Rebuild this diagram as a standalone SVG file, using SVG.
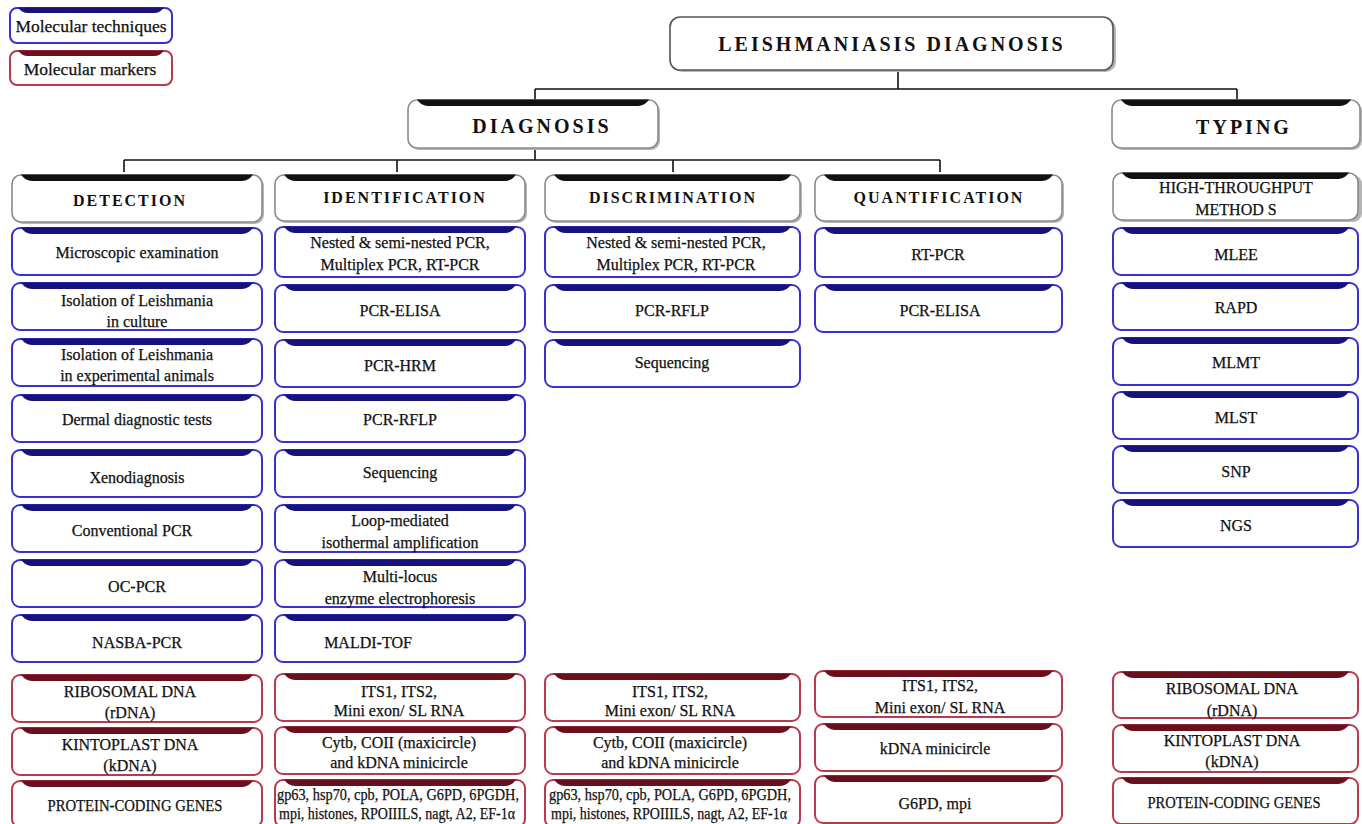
<svg xmlns="http://www.w3.org/2000/svg" width="1362" height="824" viewBox="0 0 1362 824">
<style>
text{font-family:"Liberation Serif","Times New Roman",serif;fill:#111;text-anchor:middle}
.t{font-size:16px;stroke:#111;stroke-width:0.25}
.hd{font-size:16px;font-weight:bold;letter-spacing:2px}
.big{font-size:20px;font-weight:bold;letter-spacing:3px}
.lg{font-size:17.5px;stroke:#111;stroke-width:0.25}
.bx{fill:#fff;stroke:#3a30d2;stroke-width:2}
.rx{fill:#fff;stroke:#b83a4e;stroke-width:2}
.hx{fill:#fff;stroke:#8a8a8a;stroke-width:1.6}
.bb{fill:#15137a}
.rb{fill:#6a101c}
.hb{fill:#111}
.sh{fill:#b5b5b5}
.cn{stroke:#111;stroke-width:1.6;fill:none}
</style>

<g id="connectors">
<path class="cn" d="M898,70 V89 M535,89 H1237 M535,89 V101 M1237,89 V99"/>
<path class="cn" d="M535,148 V160 M124,160 H940 M124,160 V172 M397,160 V172 M673,160 V172 M940,160 V172"/>
</g>

<g id="legend-techniques">
<rect class="bx" x="10" y="8" width="162" height="35" rx="7"/>
<path class="bb" d="M18,7.5 H164 Q160,13 154,13 H28 Q22,13 18,7.5 Z"/>
<text class="lg" x="91" y="32">Molecular techniques</text>
</g>
<g id="legend-markers">
<rect class="rx" x="10" y="51" width="162" height="34" rx="7"/>
<path class="rb" d="M18,50.5 H164 Q160,56 154,56 H28 Q22,56 18,50.5 Z"/>
<text class="lg" x="90" y="75">Molecular markers</text>
</g>

<g id="title">
<rect class="sh" x="672" y="19" width="444" height="53" rx="10"/>
<rect x="670" y="17" width="443" height="53" rx="10" fill="#fff" stroke="#555" stroke-width="1.6"/>
<text class="big" x="892" y="51">LEISHMANIASIS DIAGNOSIS</text>
</g>

<g id="diagnosis">
<rect class="sh" x="410" y="102" width="250" height="48" rx="9"/>
<rect class="hx" x="408" y="100" width="250" height="48" rx="9"/>
<path class="hb" d="M417,99.5 H649 Q645,106 638,106 H428 Q421,106 417,99.5 Z"/>
<text class="big" x="542" y="133">DIAGNOSIS</text>
</g>

<g id="typing">
<rect class="sh" x="1114" y="102" width="248" height="48" rx="9"/>
<rect class="hx" x="1112" y="100" width="248" height="48" rx="9"/>
<path class="hb" d="M1121,99.5 H1351 Q1347,106 1340,106 H1132 Q1125,106 1121,99.5 Z"/>
<text class="big" x="1244" y="134">TYPING</text>
</g>

<g id="detection">
<rect class="sh" x="14" y="177" width="250" height="47" rx="9"/>
<rect class="hx" x="12" y="175" width="250" height="47" rx="9"/>
<path class="hb" d="M21,174.5 H253 Q249,181 242,181 H32 Q25,181 21,174.5 Z"/>
<text class="hd" x="130" y="206">DETECTION</text>
</g>
<g id="identification">
<rect class="sh" x="277" y="177" width="250" height="46" rx="9"/>
<rect class="hx" x="275" y="175" width="250" height="46" rx="9"/>
<path class="hb" d="M284,174.5 H516 Q512,181 505,181 H295 Q288,181 284,174.5 Z"/>
<text class="hd" x="405" y="203">IDENTIFICATION</text>
</g>
<g id="discrimination">
<rect class="sh" x="547" y="177" width="255" height="46" rx="9"/>
<rect class="hx" x="545" y="175" width="255" height="46" rx="9"/>
<path class="hb" d="M554,174.5 H791 Q787,181 780,181 H565 Q558,181 554,174.5 Z"/>
<text class="hd" x="673" y="203">DISCRIMINATION</text>
</g>
<g id="quantification">
<rect class="sh" x="817" y="177" width="247" height="46" rx="9"/>
<rect class="hx" x="815" y="175" width="247" height="46" rx="9"/>
<path class="hb" d="M824,174.5 H1053 Q1049,181 1042,181 H835 Q828,181 824,174.5 Z"/>
<text class="hd" x="939" y="203">QUANTIFICATION</text>
</g>
<g id="high-throughput">
<rect class="sh" x="1115" y="175" width="247" height="47" rx="9"/>
<rect class="hx" x="1113" y="173" width="245" height="47" rx="9"/>
<path class="hb" d="M1122,172.5 H1349 Q1345,179 1338,179 H1133 Q1126,179 1122,172.5 Z"/>
<text class="t" x="1236" y="193">HIGH-THROUGHPUT</text>
<text class="t" x="1236" y="215">METHOD S</text>
</g>

<g id="d1"><rect class="bx" x="12" y="228" width="250" height="47" rx="8"/><path class="bb" d="M21,227.5 H253 Q249,234 242,234 H32 Q25,234 21,227.5 Z"/><text class="t" x="137" y="258">Microscopic examination</text></g>
<g id="d2"><rect class="bx" x="12" y="283" width="250" height="47" rx="8"/><path class="bb" d="M21,282.5 H253 Q249,289 242,289 H32 Q25,289 21,282.5 Z"/><text class="t" x="137" y="306">Isolation of Leishmania</text><text class="t" x="137" y="327">in culture</text></g>
<g id="d3"><rect class="bx" x="12" y="339" width="250" height="47" rx="8"/><path class="bb" d="M21,338.5 H253 Q249,345 242,345 H32 Q25,345 21,338.5 Z"/><text class="t" x="137" y="360">Isolation of Leishmania</text><text class="t" x="137" y="381">in experimental animals</text></g>
<g id="d4"><rect class="bx" x="12" y="395" width="250" height="47" rx="8"/><path class="bb" d="M21,394.5 H253 Q249,401 242,401 H32 Q25,401 21,394.5 Z"/><text class="t" x="137" y="425">Dermal diagnostic tests</text></g>
<g id="d5"><rect class="bx" x="12" y="450" width="250" height="47" rx="8"/><path class="bb" d="M21,449.5 H253 Q249,456 242,456 H32 Q25,456 21,449.5 Z"/><text class="t" x="137" y="483">Xenodiagnosis</text></g>
<g id="d6"><rect class="bx" x="12" y="505" width="250" height="47" rx="8"/><path class="bb" d="M21,504.5 H253 Q249,511 242,511 H32 Q25,511 21,504.5 Z"/><text class="t" x="132" y="536">Conventional PCR</text></g>
<g id="d7"><rect class="bx" x="12" y="560" width="250" height="47" rx="8"/><path class="bb" d="M21,559.5 H253 Q249,566 242,566 H32 Q25,566 21,559.5 Z"/><text class="t" x="137" y="592">OC-PCR</text></g>
<g id="d8"><rect class="bx" x="12" y="615" width="250" height="47" rx="8"/><path class="bb" d="M21,614.5 H253 Q249,621 242,621 H32 Q25,621 21,614.5 Z"/><text class="t" x="137" y="648">NASBA-PCR</text></g>

<g id="i1"><rect class="bx" x="275" y="227" width="250" height="50" rx="8"/><path class="bb" d="M284,226.5 H516 Q512,233 505,233 H295 Q288,233 284,226.5 Z"/><text class="t" x="400" y="248">Nested &amp; semi-nested PCR,</text><text class="t" x="400" y="270">Multiplex PCR, RT-PCR</text></g>
<g id="i2"><rect class="bx" x="275" y="285" width="250" height="47" rx="8"/><path class="bb" d="M284,284.5 H516 Q512,291 505,291 H295 Q288,291 284,284.5 Z"/><text class="t" x="400" y="316">PCR-ELISA</text></g>
<g id="i3"><rect class="bx" x="275" y="340" width="250" height="47" rx="8"/><path class="bb" d="M284,339.5 H516 Q512,346 505,346 H295 Q288,346 284,339.5 Z"/><text class="t" x="400" y="371">PCR-HRM</text></g>
<g id="i4"><rect class="bx" x="275" y="395" width="250" height="47" rx="8"/><path class="bb" d="M284,394.5 H516 Q512,401 505,401 H295 Q288,401 284,394.5 Z"/><text class="t" x="400" y="425">PCR-RFLP</text></g>
<g id="i5"><rect class="bx" x="275" y="450" width="250" height="47" rx="8"/><path class="bb" d="M284,449.5 H516 Q512,456 505,456 H295 Q288,456 284,449.5 Z"/><text class="t" x="400" y="478">Sequencing</text></g>
<g id="i6"><rect class="bx" x="275" y="505" width="250" height="47" rx="8"/><path class="bb" d="M284,504.5 H516 Q512,511 505,511 H295 Q288,511 284,504.5 Z"/><text class="t" x="400" y="526">Loop-mediated</text><text class="t" x="400" y="548">isothermal amplification</text></g>
<g id="i7"><rect class="bx" x="275" y="560" width="250" height="47" rx="8"/><path class="bb" d="M284,559.5 H516 Q512,566 505,566 H295 Q288,566 284,559.5 Z"/><text class="t" x="400" y="582">Multi-locus</text><text class="t" x="400" y="604">enzyme electrophoresis</text></g>
<g id="i8"><rect class="bx" x="275" y="615" width="250" height="47" rx="8"/><path class="bb" d="M284,614.5 H516 Q512,621 505,621 H295 Q288,621 284,614.5 Z"/><text class="t" x="368" y="648">MALDI-TOF</text></g>

<g id="s1"><rect class="bx" x="545" y="227" width="255" height="50" rx="8"/><path class="bb" d="M554,226.5 H791 Q787,233 780,233 H565 Q558,233 554,226.5 Z"/><text class="t" x="676" y="248">Nested &amp; semi-nested PCR,</text><text class="t" x="676" y="270">Multiplex PCR, RT-PCR</text></g>
<g id="s2"><rect class="bx" x="545" y="285" width="255" height="47" rx="8"/><path class="bb" d="M554,284.5 H791 Q787,291 780,291 H565 Q558,291 554,284.5 Z"/><text class="t" x="672" y="316">PCR-RFLP</text></g>
<g id="s3"><rect class="bx" x="545" y="340" width="255" height="47" rx="8"/><path class="bb" d="M554,339.5 H791 Q787,346 780,346 H565 Q558,346 554,339.5 Z"/><text class="t" x="672" y="368">Sequencing</text></g>

<g id="q1"><rect class="bx" x="815" y="228" width="247" height="49" rx="8"/><path class="bb" d="M824,227.5 H1053 Q1049,234 1042,234 H835 Q828,234 824,227.5 Z"/><text class="t" x="938" y="260">RT-PCR</text></g>
<g id="q2"><rect class="bx" x="815" y="285" width="247" height="47" rx="8"/><path class="bb" d="M824,284.5 H1053 Q1049,291 1042,291 H835 Q828,291 824,284.5 Z"/><text class="t" x="940" y="316">PCR-ELISA</text></g>

<g id="t1"><rect class="bx" x="1113" y="228" width="245" height="47" rx="8"/><path class="bb" d="M1122,227.5 H1349 Q1345,234 1338,234 H1133 Q1126,234 1122,227.5 Z"/><text class="t" x="1236" y="260">MLEE</text></g>
<g id="t2"><rect class="bx" x="1113" y="283" width="245" height="47" rx="8"/><path class="bb" d="M1122,282.5 H1349 Q1345,289 1338,289 H1133 Q1126,289 1122,282.5 Z"/><text class="t" x="1236" y="313">RAPD</text></g>
<g id="t3"><rect class="bx" x="1113" y="338" width="245" height="47" rx="8"/><path class="bb" d="M1122,337.5 H1349 Q1345,344 1338,344 H1133 Q1126,344 1122,337.5 Z"/><text class="t" x="1236" y="368">MLMT</text></g>
<g id="t4"><rect class="bx" x="1113" y="392" width="245" height="47" rx="8"/><path class="bb" d="M1122,391.5 H1349 Q1345,398 1338,398 H1133 Q1126,398 1122,391.5 Z"/><text class="t" x="1236" y="423">MLST</text></g>
<g id="t5"><rect class="bx" x="1113" y="446" width="245" height="47" rx="8"/><path class="bb" d="M1122,445.5 H1349 Q1345,452 1338,452 H1133 Q1126,452 1122,445.5 Z"/><text class="t" x="1236" y="477">SNP</text></g>
<g id="t6"><rect class="bx" x="1113" y="500" width="245" height="47" rx="8"/><path class="bb" d="M1122,499.5 H1349 Q1345,506 1338,506 H1133 Q1126,506 1122,499.5 Z"/><text class="t" x="1236" y="531">NGS</text></g>

<g id="m1a"><rect class="rx" x="12" y="675" width="250" height="47" rx="8"/><path class="rb" d="M21,674.5 H253 Q249,681 242,681 H32 Q25,681 21,674.5 Z"/><text class="t" x="130" y="697">RIBOSOMAL DNA</text><text class="t" x="130" y="718">(rDNA)</text></g>
<g id="m1b"><rect class="rx" x="12" y="728" width="250" height="47" rx="8"/><path class="rb" d="M21,727.5 H253 Q249,734 242,734 H32 Q25,734 21,727.5 Z"/><text class="t" x="130" y="750">KINTOPLAST DNA</text><text class="t" x="130" y="771">(kDNA)</text></g>
<g id="m1c"><rect class="rx" x="12" y="781" width="250" height="46" rx="8"/><path class="rb" d="M21,780.5 H253 Q249,787 242,787 H32 Q25,787 21,780.5 Z"/><text class="t" x="135" y="811" textLength="175" lengthAdjust="spacingAndGlyphs">PROTEIN-CODING GENES</text></g>

<g id="m2a"><rect class="rx" x="275" y="674" width="250" height="47" rx="8"/><path class="rb" d="M284,673.5 H516 Q512,680 505,680 H295 Q288,680 284,673.5 Z"/><text class="t" x="399" y="697">ITS1, ITS2,</text><text class="t" x="399" y="716">Mini exon/ SL RNA</text></g>
<g id="m2b"><rect class="rx" x="275" y="727" width="250" height="47" rx="8"/><path class="rb" d="M284,726.5 H516 Q512,733 505,733 H295 Q288,733 284,726.5 Z"/><text class="t" x="399" y="748">Cytb, COII (maxicircle)</text><text class="t" x="399" y="768">and kDNA minicircle</text></g>
<g id="m2c"><rect class="rx" x="275" y="780" width="250" height="47" rx="8"/><path class="rb" d="M284,779.5 H516 Q512,786 505,786 H295 Q288,786 284,779.5 Z"/><text class="t" x="398" y="800" textLength="242" lengthAdjust="spacingAndGlyphs">gp63, hsp70, cpb, POLA, G6PD, 6PGDH,</text><text class="t" x="397" y="819" textLength="236" lengthAdjust="spacingAndGlyphs">mpi, histones, RPOIIILS, nagt, A2, EF-1α</text></g>

<g id="m3a"><rect class="rx" x="545" y="674" width="255" height="47" rx="8"/><path class="rb" d="M554,673.5 H791 Q787,680 780,680 H565 Q558,680 554,673.5 Z"/><text class="t" x="670" y="697">ITS1, ITS2,</text><text class="t" x="670" y="716">Mini exon/ SL RNA</text></g>
<g id="m3b"><rect class="rx" x="545" y="727" width="255" height="47" rx="8"/><path class="rb" d="M554,726.5 H791 Q787,733 780,733 H565 Q558,733 554,726.5 Z"/><text class="t" x="670" y="748">Cytb, COII (maxicircle)</text><text class="t" x="670" y="768">and kDNA minicircle</text></g>
<g id="m3c"><rect class="rx" x="545" y="780" width="255" height="47" rx="8"/><path class="rb" d="M554,779.5 H791 Q787,786 780,786 H565 Q558,786 554,779.5 Z"/><text class="t" x="670" y="800" textLength="242" lengthAdjust="spacingAndGlyphs">gp63, hsp70, cpb, POLA, G6PD, 6PGDH,</text><text class="t" x="669" y="819" textLength="236" lengthAdjust="spacingAndGlyphs">mpi, histones, RPOIIILS, nagt, A2, EF-1α</text></g>

<g id="m4a"><rect class="rx" x="815" y="671" width="247" height="46" rx="8"/><path class="rb" d="M824,670.5 H1053 Q1049,677 1042,677 H835 Q828,677 824,670.5 Z"/><text class="t" x="940" y="691">ITS1, ITS2,</text><text class="t" x="940" y="713">Mini exon/ SL RNA</text></g>
<g id="m4b"><rect class="rx" x="815" y="724" width="247" height="47" rx="8"/><path class="rb" d="M824,723.5 H1053 Q1049,730 1042,730 H835 Q828,730 824,723.5 Z"/><text class="t" x="935" y="754">kDNA minicircle</text></g>
<g id="m4c"><rect class="rx" x="815" y="776" width="247" height="47" rx="8"/><path class="rb" d="M824,775.5 H1053 Q1049,782 1042,782 H835 Q828,782 824,775.5 Z"/><text class="t" x="935" y="809">G6PD, mpi</text></g>

<g id="m5a"><rect class="rx" x="1113" y="672" width="245" height="46" rx="8"/><path class="rb" d="M1122,671.5 H1349 Q1345,678 1338,678 H1133 Q1126,678 1122,671.5 Z"/><text class="t" x="1232" y="694">RIBOSOMAL DNA</text><text class="t" x="1232" y="716">(rDNA)</text></g>
<g id="m5b"><rect class="rx" x="1113" y="725" width="245" height="47" rx="8"/><path class="rb" d="M1122,724.5 H1349 Q1345,731 1338,731 H1133 Q1126,731 1122,724.5 Z"/><text class="t" x="1232" y="746">KINTOPLAST DNA</text><text class="t" x="1232" y="767">(kDNA)</text></g>
<g id="m5c"><rect class="rx" x="1113" y="778" width="245" height="46" rx="8"/><path class="rb" d="M1122,777.5 H1349 Q1345,784 1338,784 H1133 Q1126,784 1122,777.5 Z"/><text class="t" x="1234" y="808" textLength="173" lengthAdjust="spacingAndGlyphs">PROTEIN-CODING GENES</text></g>
</svg>
